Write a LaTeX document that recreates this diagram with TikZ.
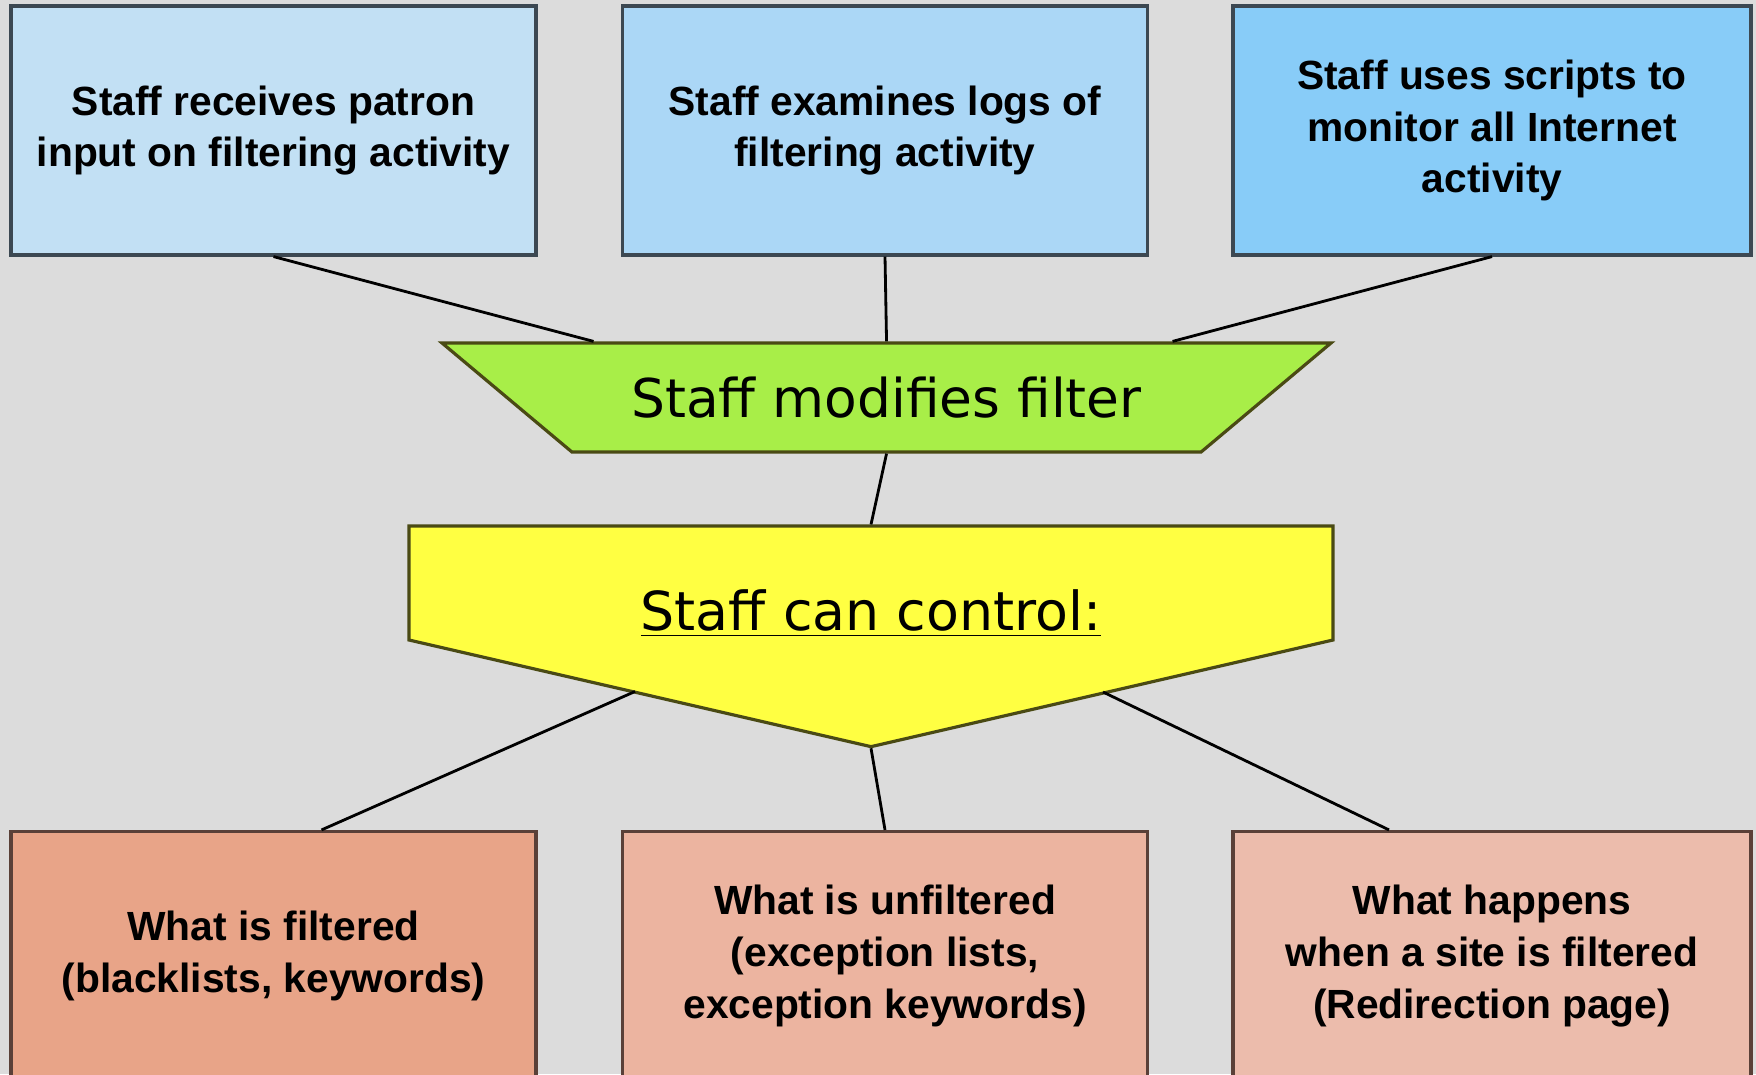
\documentclass[tikz,border=0pt]{standalone}
\usepackage{fontspec}
\setmainfont{Liberation Sans}
\newfontfamily\dvfont{DejaVu Sans}
\usetikzlibrary{shapes.geometric,shapes.symbols,calc}

\definecolor{bggray}{HTML}{DCDCDC}
\definecolor{inedge}{HTML}{3C4852}
\definecolor{inone}{HTML}{C2E0F4}
\definecolor{intwo}{HTML}{ABD7F6}
\definecolor{inthree}{HTML}{88CCF8}
\definecolor{modfill}{HTML}{A8EE48}
\definecolor{modedge}{HTML}{4A4A14}
\definecolor{ctlfill}{HTML}{FFFF42}
\definecolor{outedge}{HTML}{5A4038}
\definecolor{outone}{HTML}{E8A488}
\definecolor{outtwo}{HTML}{ECB4A0}
\definecolor{outthree}{HTML}{ECBCAC}

\begin{document}
\begin{tikzpicture}[
	inbox/.style={draw=inedge, line width=0.9pt, minimum width=5.25cm, minimum height=2.49cm,
		align=center, inner sep=0pt, font=\bfseries\fontsize{11.6}{14.7}\selectfont},
	outbox/.style={inbox, draw=outedge},
	link/.style={black, line width=0.8pt}]
	\clip (0,0) rectangle (17.56,-10.74);
	\fill [bggray] (0,0) rectangle (17.56,-10.74);
	\node [inbox, fill=inone] (in1) at (2.735,-1.305) {Staff receives patron\\input on filtering activity};
	\node [inbox, fill=intwo] (in2) at (8.85,-1.305) {Staff examines logs of\\filtering activity};
	\node [inbox, fill=inthree, minimum width=5.18cm] (in3) at (14.92,-1.305) {Staff uses scripts to\\monitor all Internet\\activity};
	\node [trapezium, shape border rotate=180, trapezium stretches body=true, trapezium angle=40,
		minimum width=8.89cm, text height=0.74cm, text depth=0.35cm, inner sep=0pt, draw=modedge, fill=modfill,
		line width=0.9pt, font=\dvfont\fontsize{15.2}{18}\selectfont] (mod) at (8.865,-3.975) {Staff modifies filter};
	\node [signal, signal to=south, signal pointer angle=154, minimum width=9.24cm,
		text height=1.04cm, text depth=0.10cm, inner sep=0pt, draw=modedge, fill=ctlfill, line width=0.9pt,
		font=\dvfont\fontsize{15.3}{18}\selectfont] (ctl) at (8.71,-5.83) {\underline{Staff can control:}};
	\node [outbox, fill=outone] (out1) at (2.735,-9.56) {What is filtered\\(blacklists, keywords)};
	\node [outbox, fill=outtwo] (out2) at (8.85,-9.56) {What is unfiltered\\(exception lists,\\exception keywords)};
	\node [outbox, fill=outthree, minimum width=5.18cm] (out3) at (14.92,-9.56) {What happens\\when a site is filtered\\(Redirection page)};
	\coordinate (m1) at ($(mod.north)+(-2.93,0)$);
	\coordinate (m3) at ($(mod.north)+(2.86,0)$);
	\coordinate (c1) at (6.35,-6.915);
	\coordinate (c3) at (11.03,-6.92);
	\coordinate (o1) at ($(out1.north)+(0.48,0)$);
	\coordinate (o3) at ($(out3.north)+(-1.03,0)$);
	\draw [link] (in1.south) -- (m1);
	\draw [link] (in2.south) -- (mod.north);
	\draw [link] (in3.south) -- (m3);
	\draw [link] (mod.south) -- (ctl.north);
	\draw [link] (c1) -- (o1);
	\draw [link] (ctl.south) -- (out2.north);
	\draw [link] (c3) -- (o3);
\end{tikzpicture}
\end{document}
